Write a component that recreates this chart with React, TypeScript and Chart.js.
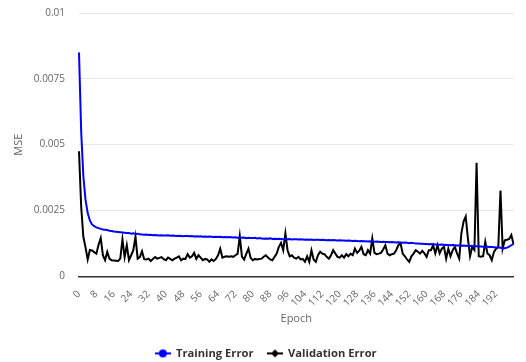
import { useEffect, useRef } from 'react';
import { Chart, registerables } from 'chart.js';

Chart.register(...registerables);

const epochs: number[] = Array.from({ length: 201 }, (_, i) => i);

const trainingError: number[] = [
  0.0085, 0.0055, 0.0038, 0.0029, 0.0024, 0.00212, 0.00197, 0.0019, 0.00186, 0.00183,
  0.0018, 0.00178, 0.00177, 0.00176, 0.00173, 0.00172, 0.0017, 0.00169, 0.00168, 0.00167,
  0.00166, 0.00165, 0.00164, 0.00164, 0.00162, 0.00163, 0.00161, 0.00162, 0.0016, 0.00159,
  0.00158, 0.00159, 0.00157, 0.00158, 0.00156, 0.00157, 0.00156, 0.00155, 0.00156, 0.00155,
  0.00155, 0.00156, 0.00154, 0.00155, 0.00154, 0.00153, 0.00154, 0.00153, 0.00152, 0.00153,
  0.00153, 0.00152, 0.00153, 0.00151, 0.00152, 0.00151, 0.00152, 0.0015, 0.00151, 0.0015,
  0.00151, 0.0015, 0.00149, 0.0015, 0.00149, 0.0015, 0.00148, 0.00149, 0.00148, 0.00149,
  0.00148, 0.00147, 0.00148, 0.00146, 0.00147, 0.00146, 0.00147, 0.00145, 0.00146, 0.00145,
  0.00145, 0.00146, 0.00144, 0.00145, 0.00144, 0.00143, 0.00144, 0.00143, 0.00144, 0.00142,
  0.00143, 0.00142, 0.00143, 0.00142, 0.00141, 0.00142, 0.00141, 0.00142, 0.0014, 0.00141,
  0.00141, 0.0014, 0.00141, 0.0014, 0.00139, 0.0014, 0.00139, 0.0014, 0.00138, 0.00139,
  0.00139, 0.00138, 0.00139, 0.00138, 0.00137, 0.00138, 0.00137, 0.00138, 0.00137, 0.00136,
  0.00137, 0.00136, 0.00136, 0.00135, 0.00136, 0.00135, 0.00134, 0.00135, 0.00134, 0.00133,
  0.00134, 0.00133, 0.00133, 0.00132, 0.00133, 0.00132, 0.00131, 0.00132, 0.00131, 0.0013,
  0.00131, 0.0013, 0.0013, 0.00129, 0.0013, 0.00129, 0.00128, 0.00129, 0.00128, 0.00127,
  0.00128, 0.00127, 0.00126, 0.00127, 0.00126, 0.00125, 0.00125, 0.00124, 0.00124, 0.00123,
  0.00123, 0.00122, 0.00123, 0.00122, 0.00121, 0.00121, 0.0012, 0.00121, 0.0012, 0.00119,
  0.00119, 0.00118, 0.00119, 0.00118, 0.00117, 0.00117, 0.00116, 0.00117, 0.00116, 0.00115,
  0.00115, 0.00114, 0.00115, 0.00114, 0.00113, 0.00113, 0.00112, 0.00113, 0.00112, 0.00111,
  0.00111, 0.0011, 0.00109, 0.00109, 0.00108, 0.00107, 0.00107, 0.00109, 0.00113, 0.00118, 0.00123,
];

const validationError: number[] = [
  0.00475, 0.00265, 0.0015, 0.0011, 0.00064, 0.001, 0.00098, 0.00092, 0.00086, 0.0012,
  0.00145, 0.0008, 0.00061, 0.00093, 0.00067, 0.00061, 0.0006, 0.00059, 0.00058, 0.00067,
  0.0014, 0.00073, 0.00118, 0.00061, 0.0008, 0.00099, 0.0015, 0.00067, 0.00073, 0.00095,
  0.00065, 0.00064, 0.00067, 0.00058, 0.00066, 0.00073, 0.00067, 0.0007, 0.00073, 0.00065,
  0.00061, 0.00071, 0.00066, 0.00061, 0.00067, 0.00071, 0.00076, 0.00061, 0.00067, 0.00066,
  0.00084, 0.00071, 0.00076, 0.00089, 0.00066, 0.0008, 0.00071, 0.00061, 0.00066, 0.00064,
  0.00055, 0.00064, 0.00058, 0.00066, 0.0008, 0.00105, 0.00071, 0.00074, 0.00076, 0.00074,
  0.00076, 0.00074, 0.0008, 0.00085, 0.00153, 0.00075, 0.00063, 0.00085, 0.00105, 0.0007,
  0.00061, 0.00066, 0.00064, 0.00066, 0.00067, 0.00074, 0.0008, 0.00071, 0.00064, 0.00061,
  0.00074, 0.00086, 0.00112, 0.00127, 0.00099, 0.00163, 0.00099, 0.00076, 0.0008, 0.00071,
  0.00067, 0.00074, 0.00064, 0.00066, 0.00055, 0.00076, 0.00055, 0.00099, 0.00064, 0.00055,
  0.0008, 0.00093, 0.00086, 0.00084, 0.00074, 0.00067, 0.0008, 0.00099, 0.00086, 0.00074,
  0.00071, 0.0008, 0.00071, 0.00084, 0.00076, 0.00086, 0.0008, 0.00105, 0.00089, 0.00097,
  0.00112, 0.00084, 0.0008, 0.00099, 0.00086, 0.00144, 0.00089, 0.00084, 0.00086, 0.00089,
  0.00102, 0.00118, 0.00086, 0.0008, 0.00084, 0.00086, 0.00099, 0.00118, 0.00125, 0.00086,
  0.00076, 0.00064, 0.00055, 0.00076, 0.00086, 0.00099, 0.00093, 0.00086, 0.00097, 0.00087,
  0.00074, 0.00099, 0.00099, 0.00118, 0.00087, 0.00118, 0.00087, 0.00105, 0.00112, 0.00067,
  0.00105, 0.00076, 0.00099, 0.00112, 0.00087, 0.00067, 0.00163, 0.00208, 0.00227, 0.00144,
  0.00076, 0.00112, 0.001, 0.00431, 0.00076, 0.00074, 0.00076, 0.00131, 0.00087, 0.0008,
  0.00061, 0.00093, 0.00105, 0.00112, 0.00326, 0.00105, 0.00137, 0.00139, 0.00142, 0.00157, 0.00122,
];

const yTickLabels: string[] = ['0', '0.0025', '0.005', '0.0075', '0.01'];
const xTickStep = 8;
const lastLabeledEpoch = 192;

const seriesNames = ['Training Error', 'Validation Error'];
const seriesColors = ['#0000ff', '#000000'];
const seriesMarkers = ['circle', 'diamond'];

const FONT = "'Open Sans', sans-serif";

function makeSymbol(color: string, shape: string): HTMLCanvasElement {
  const c = document.createElement('canvas');
  c.width = 16;
  c.height = 10;
  const g = c.getContext('2d')!;
  g.strokeStyle = color;
  g.lineWidth = 2;
  g.beginPath();
  g.moveTo(0, 5);
  g.lineTo(16, 5);
  g.stroke();
  g.fillStyle = color;
  g.beginPath();
  if (shape === 'circle') {
    g.arc(8, 5, 4, 0, Math.PI * 2);
  } else {
    g.moveTo(8, 1);
    g.lineTo(12, 5);
    g.lineTo(8, 9);
    g.lineTo(4, 5);
    g.closePath();
  }
  g.fill();
  return c;
}

export default function App() {
  const ref = useRef<HTMLCanvasElement | null>(null);

  useEffect(() => {
    if (!ref.current) return;
    const symbols = seriesColors.map((c, i) => makeSymbol(c, seriesMarkers[i]));
    const chart = new Chart(ref.current, {
      type: 'line',
      data: {
        labels: epochs,
        datasets: [
          {
            label: seriesNames[0],
            data: trainingError,
            borderColor: seriesColors[0],
            backgroundColor: seriesColors[0],
            borderWidth: 2,
            pointRadius: 0,
            tension: 0,
          },
          {
            label: seriesNames[1],
            data: validationError,
            borderColor: seriesColors[1],
            backgroundColor: seriesColors[1],
            borderWidth: 2,
            pointRadius: 0,
            tension: 0,
          },
        ],
      },
      options: {
        responsive: false,
        animation: false,
        layout: { padding: { top: 13, right: 6, bottom: -7, left: 12 } },
        plugins: {
          tooltip: { enabled: false },
          legend: {
            position: 'bottom',
            labels: {
              usePointStyle: true,
              pointStyleWidth: 15,
              padding: 14,
              color: '#333333',
              font: { family: FONT, size: 11.2, weight: 'bold' },
              generateLabels: (ch: any) =>
                ch.data.datasets.map((ds: any, i: number) => ({
                  text: ds.label,
                  fillStyle: ds.borderColor,
                  strokeStyle: ds.borderColor,
                  lineWidth: 0,
                  pointStyle: symbols[i],
                  datasetIndex: i,
                  hidden: false,
                  fontColor: '#333333',
                })),
            },
          },
        },
        scales: {
          x: {
            type: 'category',
            grid: { display: false },
            border: { display: true, color: '#333333', width: 1.5 },
            ticks: {
              autoSkip: false,
              maxRotation: 45,
              minRotation: 45,
              padding: 4,
              color: '#666666',
              font: { family: FONT, size: 10 },
              callback: (_v: any, idx: number) =>
                idx % xTickStep === 0 && epochs[idx] <= lastLabeledEpoch ? String(epochs[idx]) : '',
            },
            title: {
              display: true,
              text: 'Epoch',
              color: '#666666',
              font: { family: FONT, size: 11 },
              padding: { top: 0, bottom: 8 },
            },
            afterFit: (s: any) => {
              s.height = 57.5;
            },
          },
          y: {
            min: 0,
            max: 0.01,
            grid: { color: '#e6e6e6', lineWidth: 1, drawTicks: false },
            border: { display: false },
            ticks: {
              stepSize: 0.0025,
              padding: 14,
              color: '#666666',
              font: { family: FONT, size: 10 },
              callback: (_v: any, idx: number) => yTickLabels[idx],
            },
            title: {
              display: true,
              text: 'MSE',
              color: '#666666',
              font: { family: FONT, size: 11 },
              padding: { top: 0, bottom: 0 },
            },
            afterFit: (s: any) => {
              s.width = 67;
              s.paddingTop = 6;
              s.paddingBottom = 6;
            },
          },
        },
      },
    } as any);
    return () => chart.destroy();
  }, []);

  return (
    <div style={{ position: 'fixed', left: 0, top: 0, width: 526, height: 362 }}>
      <canvas ref={ref} width={526} height={362} style={{ display: 'block' }} />
    </div>
  );
}
